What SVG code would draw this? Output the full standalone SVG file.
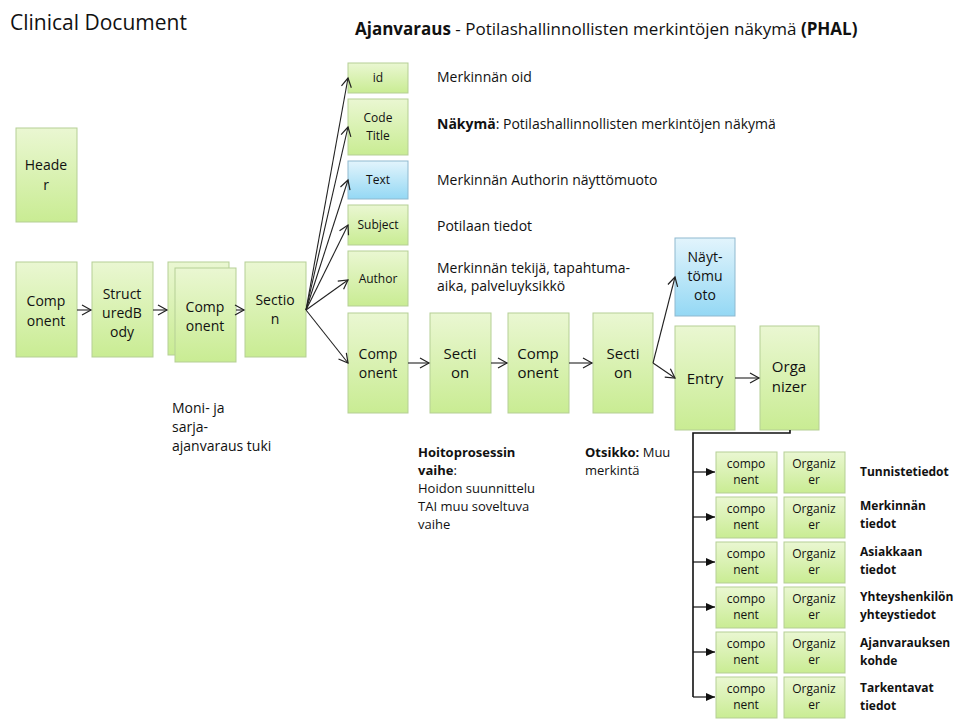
<svg xmlns="http://www.w3.org/2000/svg" width="963" height="724" viewBox="0 0 963 724">
<defs>
<linearGradient id="g" x1="0" y1="0" x2="0" y2="1"><stop offset="0" stop-color="#eaf7d2"/><stop offset="1" stop-color="#c9ec93"/></linearGradient>
<linearGradient id="b" x1="0" y1="0" x2="0" y2="1"><stop offset="0" stop-color="#e2f4fc"/><stop offset="1" stop-color="#94d8f4"/></linearGradient>
<marker id="o" markerWidth="12" markerHeight="12" refX="10" refY="6" orient="auto" markerUnits="userSpaceOnUse"><path d="M1,1 L10,6 L1,11" fill="none" stroke="#222" stroke-width="1.2"/></marker>
<marker id="f" markerWidth="10" markerHeight="10" refX="9" refY="5" orient="auto" markerUnits="userSpaceOnUse"><path d="M0,1 L9,5 L0,9 z" fill="#111"/></marker>
</defs>
<style>
.n{fill:url(#g);stroke:#b5cf95;stroke-width:1}
.nb{fill:url(#b);stroke:#8fb9cf;stroke-width:1}
text{font-family:"Open Sans","Liberation Sans",sans-serif;fill:#111}
.t{font-size:14px;text-anchor:middle}
.s{font-size:12px;text-anchor:middle}
.l{font-size:14px}
.lb{font-size:12px;font-weight:bold}
.c{stroke:#222;stroke-width:1.1;fill:none;marker-end:url(#o)}
.k{stroke:#111;stroke-width:1.2;fill:none;marker-end:url(#f)}
</style>
<rect width="963" height="724" fill="#fff"/>
<text x="10" y="30" style="font-size:21px">Clinical Document</text>
<text x="355" y="35" style="font-size:17px"><tspan font-weight="bold">Ajanvaraus</tspan> - Potilashallinnollisten merkintöjen näkymä <tspan font-weight="bold">(PHAL)</tspan></text>

<g id="header"><rect class="n" x="16" y="128" width="61" height="94"/><text class="t" x="46" y="170">Heade</text><text class="t" x="46" y="190">r</text></g>
<g id="component1"><rect class="n" x="16" y="262" width="61" height="95"/><text class="t" x="46" y="306">Comp</text><text class="t" x="46" y="326">onent</text></g>
<g id="structuredBody"><rect class="n" x="92" y="262" width="61" height="95"/><text class="t" x="122" y="299">Struct</text><text class="t" x="122" y="318">uredB</text><text class="t" x="122" y="337">ody</text></g>
<g id="component2"><rect class="n" x="168" y="262" width="61" height="93"/><rect class="n" x="175" y="268" width="61" height="94"/><text class="t" x="205" y="312">Comp</text><text class="t" x="205" y="331">onent</text></g>
<g id="section1"><rect class="n" x="245" y="262" width="61" height="95"/><text class="t" x="275" y="305">Sectio</text><text class="t" x="275" y="324">n</text></g>

<g id="id"><rect class="n" x="348" y="63" width="60" height="30"/><text class="s" x="378" y="82">id</text></g>
<g id="codeTitle"><rect class="n" x="348" y="99" width="60" height="56"/><text class="s" x="378" y="122">Code</text><text class="s" x="378" y="140">Title</text></g>
<g id="text"><rect class="nb" x="348" y="161" width="60" height="38"/><text class="s" x="378" y="184">Text</text></g>
<g id="subject"><rect class="n" x="348" y="205" width="60" height="40"/><text class="s" x="378" y="229">Subject</text></g>
<g id="author"><rect class="n" x="348" y="251" width="60" height="55"/><text class="s" x="378" y="283">Author</text></g>
<g id="component3"><rect class="n" x="348" y="313" width="60" height="100"/><text class="t" x="378" y="359">Comp</text><text class="t" x="378" y="378">onent</text></g>
<g id="section2"><rect class="n" x="430" y="313" width="61" height="100"/><text class="t" x="460" y="359" style="font-size:15px">Secti</text><text class="t" x="460" y="378" style="font-size:15px">on</text></g>
<g id="component4"><rect class="n" x="508" y="313" width="61" height="100"/><text class="t" x="538" y="359" style="font-size:15px">Comp</text><text class="t" x="538" y="378" style="font-size:15px">onent</text></g>
<g id="section3"><rect class="n" x="593" y="313" width="60" height="100"/><text class="t" x="623" y="359" style="font-size:15px">Secti</text><text class="t" x="623" y="378" style="font-size:15px">on</text></g>
<g id="nayttomuoto"><rect class="nb" x="675" y="238" width="60" height="78"/><text class="t" x="705" y="262">Näyt-</text><text class="t" x="705" y="281">tömu</text><text class="t" x="705" y="300">oto</text></g>
<g id="entry"><rect class="n" x="675" y="326" width="60" height="104"/><text class="t" x="705" y="384" style="font-size:15px">Entry</text></g>
<g id="organizer"><rect class="n" x="760" y="326" width="59" height="104"/><text class="t" x="789" y="372" style="font-size:15px">Orga</text><text class="t" x="789" y="392" style="font-size:15px">nizer</text></g>

<g id="rows">
<rect class="n" x="716" y="452" width="61" height="41"/><text class="s" x="746" y="468">compo</text><text class="s" x="746" y="484">nent</text>
<rect class="n" x="784" y="452" width="61" height="41"/><text class="s" x="814" y="468">Organiz</text><text class="s" x="814" y="484">er</text>
<rect class="n" x="716" y="497" width="61" height="41"/><text class="s" x="746" y="513">compo</text><text class="s" x="746" y="529">nent</text>
<rect class="n" x="784" y="497" width="61" height="41"/><text class="s" x="814" y="513">Organiz</text><text class="s" x="814" y="529">er</text>
<rect class="n" x="716" y="542" width="61" height="41"/><text class="s" x="746" y="558">compo</text><text class="s" x="746" y="574">nent</text>
<rect class="n" x="784" y="542" width="61" height="41"/><text class="s" x="814" y="558">Organiz</text><text class="s" x="814" y="574">er</text>
<rect class="n" x="716" y="587" width="61" height="41"/><text class="s" x="746" y="603">compo</text><text class="s" x="746" y="619">nent</text>
<rect class="n" x="784" y="587" width="61" height="41"/><text class="s" x="814" y="603">Organiz</text><text class="s" x="814" y="619">er</text>
<rect class="n" x="716" y="632" width="61" height="41"/><text class="s" x="746" y="648">compo</text><text class="s" x="746" y="664">nent</text>
<rect class="n" x="784" y="632" width="61" height="41"/><text class="s" x="814" y="648">Organiz</text><text class="s" x="814" y="664">er</text>
<rect class="n" x="716" y="677" width="61" height="41"/><text class="s" x="746" y="693">compo</text><text class="s" x="746" y="709">nent</text>
<rect class="n" x="784" y="677" width="61" height="41"/><text class="s" x="814" y="693">Organiz</text><text class="s" x="814" y="709">er</text>
</g>

<g id="connectors">
<line class="c" x1="77" y1="310" x2="91" y2="310"/>
<line class="c" x1="153" y1="310" x2="167" y2="310"/>
<line class="c" x1="236" y1="310" x2="244" y2="310"/>
<line class="c" x1="306" y1="310" x2="348" y2="78"/>
<line class="c" x1="306" y1="310" x2="348" y2="127"/>
<line class="c" x1="306" y1="310" x2="348" y2="180"/>
<line class="c" x1="306" y1="310" x2="348" y2="225"/>
<line class="c" x1="306" y1="310" x2="348" y2="280"/>
<line class="c" x1="306" y1="310" x2="348" y2="363"/>
<line class="c" x1="408" y1="363" x2="429" y2="363"/>
<line class="c" x1="491" y1="363" x2="507" y2="363"/>
<line class="c" x1="569" y1="363" x2="592" y2="363"/>
<line class="c" x1="653" y1="363" x2="675" y2="277"/>
<line class="c" x1="653" y1="363" x2="675" y2="378"/>
<line class="c" x1="735" y1="378" x2="759" y2="378"/>
<path d="M790,430 V433 H693 V697" stroke="#111" stroke-width="1.6" fill="none"/>
<line class="k" x1="693" y1="472" x2="715" y2="472"/>
<line class="k" x1="693" y1="517" x2="715" y2="517"/>
<line class="k" x1="693" y1="562" x2="715" y2="562"/>
<line class="k" x1="693" y1="607" x2="715" y2="607"/>
<line class="k" x1="693" y1="652" x2="715" y2="652"/>
<line class="k" x1="693" y1="697" x2="715" y2="697"/>
</g>

<text class="l" x="437" y="82">Merkinnän oid</text>
<text class="l" x="437" y="129"><tspan font-weight="bold">Näkymä</tspan>: Potilashallinnollisten merkintöjen näkymä</text>
<text class="l" x="437" y="185">Merkinnän Authorin näyttömuoto</text>
<text class="l" x="437" y="231">Potilaan tiedot</text>
<text class="l" x="437" y="273">Merkinnän tekijä, tapahtuma-</text>
<text class="l" x="437" y="291">aika, palveluyksikkö</text>
<text class="l" x="172" y="413">Moni- ja</text>
<text class="l" x="172" y="432">sarja-</text>
<text class="l" x="172" y="451">ajanvaraus tuki</text>
<text class="l" x="418" y="457" font-weight="bold" style="font-size:13px">Hoitoprosessin</text>
<text class="l" x="418" y="475" style="font-size:13px"><tspan font-weight="bold">vaihe</tspan>:</text>
<text class="l" x="418" y="493" style="font-size:13px">Hoidon suunnittelu</text>
<text class="l" x="418" y="511" style="font-size:13px">TAI muu soveltuva</text>
<text class="l" x="418" y="529" style="font-size:13px">vaihe</text>
<text class="l" x="585" y="457" style="font-size:13px"><tspan font-weight="bold">Otsikko:</tspan> Muu</text>
<text class="l" x="585" y="475" style="font-size:13px">merkintä</text>
<text class="lb" x="860" y="476">Tunnistetiedot</text>
<text class="lb" x="860" y="510">Merkinnän</text><text class="lb" x="860" y="528">tiedot</text>
<text class="lb" x="860" y="556">Asiakkaan</text><text class="lb" x="860" y="574">tiedot</text>
<text class="lb" x="860" y="601">Yhteyshenkilön</text><text class="lb" x="860" y="619">yhteystiedot</text>
<text class="lb" x="860" y="647">Ajanvarauksen</text><text class="lb" x="860" y="665">kohde</text>
<text class="lb" x="860" y="692">Tarkentavat</text><text class="lb" x="860" y="710">tiedot</text>
</svg>
